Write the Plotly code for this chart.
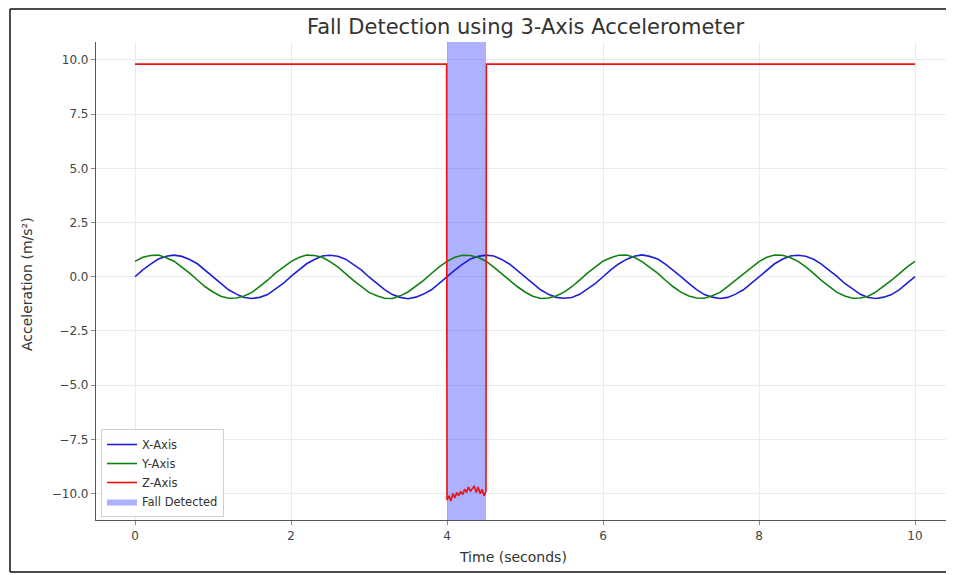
import plotly.graph_objects as go

# ---- data ----
TIME = [i / 10 for i in range(101)]  # sample grid, 0..10 s

X_AXIS = [0.00, 0.32, 0.58, 0.82, 0.95, 1.00, 0.94, 0.80, 0.60, 0.30,
          0.01, -0.30, -0.60, -0.80, -0.96, -1.00, -0.95, -0.82, -0.58, -0.31,
          0.02, 0.30, 0.60, 0.80, 0.96, 0.99, 0.95, 0.81, 0.57, 0.32,
          -0.01, -0.32, -0.59, -0.82, -0.95, -1.01, -0.94, -0.80, -0.60, -0.30,
          0.01, 0.31, 0.58, 0.82, 0.94, 1.00, 0.96, 0.80, 0.59, 0.30,
          -0.02, -0.31, -0.60, -0.81, -0.95, -0.99, -0.96, -0.81, -0.58, -0.32,
          0.00, 0.32, 0.59, 0.80, 0.95, 1.01, 0.94, 0.82, 0.58, 0.31,
          0.01, -0.30, -0.59, -0.82, -0.94, -1.00, -0.95, -0.80, -0.60, -0.31,
          -0.01, 0.30, 0.60, 0.81, 0.96, 0.99, 0.95, 0.81, 0.58, 0.30,
          0.02, -0.31, -0.58, -0.81, -0.96, -1.00, -0.94, -0.82, -0.59, -0.30,
          0.01]

Y_AXIS = [0.71, 0.90, 0.98, 1.00, 0.88, 0.72, 0.44, 0.17, -0.15, -0.46,
          -0.70, -0.90, -0.99, -0.98, -0.89, -0.72, -0.44, -0.16, 0.17, 0.45,
          0.70, 0.89, 1.00, 0.98, 0.90, 0.70, 0.46, 0.15, -0.17, -0.44,
          -0.72, -0.88, -0.99, -1.00, -0.88, -0.70, -0.45, -0.17, 0.15, 0.46,
          0.71, 0.90, 0.99, 0.98, 0.89, 0.72, 0.44, 0.16, -0.15, -0.45,
          -0.70, -0.90, -1.00, -0.98, -0.89, -0.71, -0.46, -0.15, 0.17, 0.44,
          0.72, 0.88, 0.99, 1.00, 0.90, 0.70, 0.45, 0.17, -0.16, -0.46,
          -0.71, -0.89, -0.98, -0.99, -0.88, -0.72, -0.44, -0.15, 0.16, 0.45,
          0.70, 0.90, 1.00, 0.99, 0.89, 0.71, 0.46, 0.16, -0.17, -0.44,
          -0.72, -0.89, -0.99, -0.98, -0.90, -0.70, -0.45, -0.16, 0.15, 0.46,
          0.71]

Z_TIME = [0.0, 3.995, 4.0, 4.025, 4.05, 4.075, 4.1, 4.125, 4.15, 4.175,
          4.2, 4.225, 4.25, 4.275, 4.3, 4.325, 4.35, 4.375, 4.4, 4.425,
          4.45, 4.475, 4.5, 4.505, 10.0]
Z_AXIS = [9.81, 9.81, -10.3, -10.1, -10.35, -10.0, -10.2, -9.95, -10.1, -9.9,
          -10.05, -9.8, -9.95, -9.7, -9.9, -9.75, -9.65, -9.95, -9.7, -10.0,
          -9.8, -10.1, -9.9, 9.81, 9.81]

FALL_START = 4.0
FALL_END = 4.5

X_TICKS = [0, 2, 4, 6, 8, 10]
Y_TICKS = [-10.0, -7.5, -5.0, -2.5, 0.0, 2.5, 5.0, 7.5, 10.0]
X_RANGE = [-0.5, 10.5]
Y_RANGE = [-11.22, 10.83]

FONT = "DejaVu Sans"

fig = go.Figure()
# shaded fall window drawn first so the lines sit above it
fig.add_trace(go.Scatter(
    x=[FALL_START, FALL_END, FALL_END, FALL_START, FALL_START],
    y=[Y_RANGE[0], Y_RANGE[0], Y_RANGE[1], Y_RANGE[1], Y_RANGE[0]],
    mode="lines", fill="toself", fillcolor="rgba(40,50,255,0.38)",
    line=dict(width=0), name="Fall Detected", hoverinfo="skip", legendrank=4))
fig.add_trace(go.Scatter(x=TIME, y=X_AXIS, mode="lines", name="X-Axis",
                         line=dict(color="#1f1fd6", width=1.6), legendrank=1))
fig.add_trace(go.Scatter(x=TIME, y=Y_AXIS, mode="lines", name="Y-Axis",
                         line=dict(color="#108010", width=1.6), legendrank=2))
fig.add_trace(go.Scatter(x=Z_TIME, y=Z_AXIS, mode="lines", name="Z-Axis",
                         line=dict(color="#f01010", width=1.6), legendrank=3))

# page is offset by the 8px body margin of the html page
OFF = 8
W, H = 946, 567
L, R, T, B = 88, 0, 34, 55
PW, PH = W - L - R, H - T - B


def px(x):
    return (x - OFF - L) / PW


def py(y):
    return (H - B - (y - OFF)) / PH


axis_common = dict(
    showgrid=True, gridcolor="#ebebeb", gridwidth=1,
    zeroline=False, showline=True, linecolor="#555", linewidth=1.2,
    ticks="outside", ticklen=4, tickcolor="#888",
    tickfont=dict(family=FONT, size=12, color="#444"),
)

fig.update_xaxes(range=X_RANGE, tickvals=X_TICKS, **axis_common)
fig.update_yaxes(range=Y_RANGE, tickvals=Y_TICKS, tickformat=".1f", **axis_common)

border = dict(color="#111", width=1.5)

fig.update_layout(
    width=W, height=H,
    margin=dict(l=L, r=R, t=T, b=B),
    paper_bgcolor="white", plot_bgcolor="white",
    font=dict(family=FONT, color="#333"),
    showlegend=True,
    legend=dict(x=px(101), y=py(517), xanchor="left", yanchor="bottom",
                bgcolor="rgba(255,255,255,0.85)", bordercolor="#d0d0d0",
                borderwidth=1, font=dict(family=FONT, size=11.5, color="#333"),
                itemwidth=30, tracegroupgap=0),
    annotations=[
        dict(text="Fall Detection using 3-Axis Accelerometer", xref="paper", yref="paper",
             x=px(525), y=py(27), showarrow=False, xanchor="center", yanchor="middle",
             font=dict(family=FONT, size=21, color="#333")),
        dict(text="Time (seconds)", xref="paper", yref="paper",
             x=px(513), y=py(557), showarrow=False, xanchor="center", yanchor="middle",
             font=dict(family=FONT, size=14, color="#333")),
        dict(text="Acceleration (m/s²)", xref="paper", yref="paper",
             x=px(27), y=py(284), showarrow=False, xanchor="center", yanchor="middle",
             textangle=-90, font=dict(family=FONT, size=14, color="#333")),
    ],
    shapes=[
        dict(type="line", xref="paper", yref="paper",
             x0=px(10), x1=px(10), y0=py(572), y1=py(9), line=border, layer="above"),
        dict(type="line", xref="paper", yref="paper",
             x0=px(10), x1=px(954), y0=py(9), y1=py(9), line=border, layer="above"),
        dict(type="line", xref="paper", yref="paper",
             x0=px(10), x1=px(954), y0=py(572), y1=py(572), line=border, layer="above"),
    ],
)

fig.write_html("out.html")
